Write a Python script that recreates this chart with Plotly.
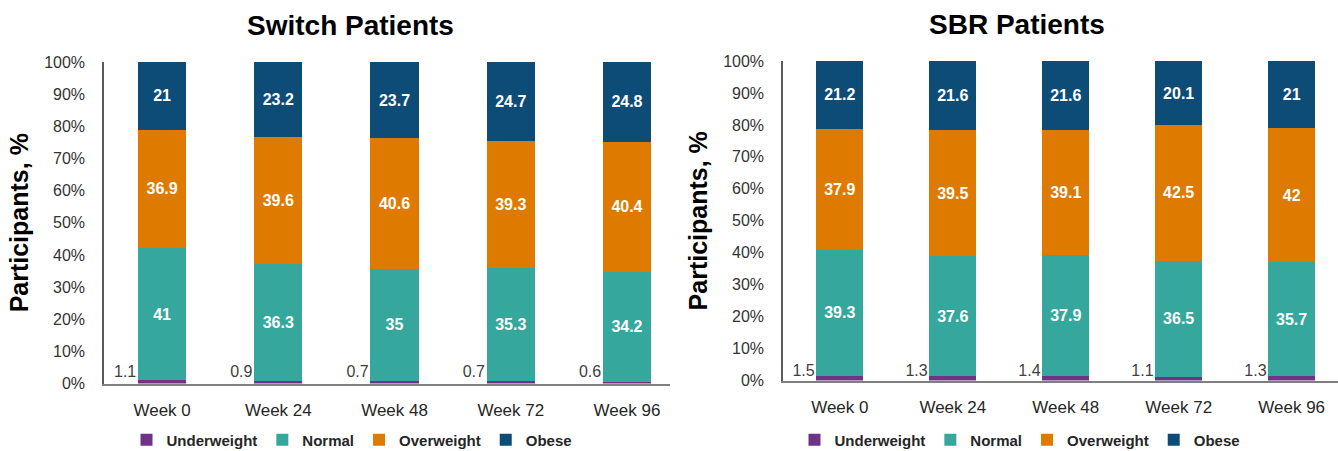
import plotly.graph_objects as go

weeks = ["Week 0", "Week 24", "Week 48", "Week 72", "Week 96"]
series_names = ["Underweight", "Normal", "Overweight", "Obese"]
colors = ["#6F3287", "#35A79C", "#DE7A00", "#0C4C77"]

switch_under = [1.1, 0.9, 0.7, 0.7, 0.6]
switch_normal = [41, 36.3, 35, 35.3, 34.2]
switch_over = [36.9, 39.6, 40.6, 39.3, 40.4]
switch_obese = [21, 23.2, 23.7, 24.7, 24.8]

sbr_under = [1.5, 1.3, 1.4, 1.1, 1.3]
sbr_normal = [39.3, 37.6, 37.9, 36.5, 35.7]
sbr_over = [37.9, 39.5, 39.1, 42.5, 42]
sbr_obese = [21.2, 21.6, 21.6, 20.1, 21]

panel_titles = ["Switch Patients", "SBR Patients"]
y_ticks = [0, 10, 20, 30, 40, 50, 60, 70, 80, 90, 100]
y_tick_labels = ["0%", "10%", "20%", "30%", "40%", "50%", "60%", "70%", "80%", "90%", "100%"]

BASE = "Liberation Sans, Arial, sans-serif"
BAR_W = 0.415

fig = go.Figure()
xs = list(range(len(weeks)))

panels = [
    ("x", "y", "legend", [switch_under, switch_normal, switch_over, switch_obese], 3.4),
    ("x2", "y2", "legend2", [sbr_under, sbr_normal, sbr_over, sbr_obese], 2.8),
]

for xa, ya, lg, data, label_y in panels:
    for k, (name, vals, col) in enumerate(zip(series_names, data, colors)):
        fig.add_trace(go.Bar(
            x=xs, y=vals, name=name, xaxis=xa, yaxis=ya, legend=lg,
            marker=dict(color=col, line=dict(width=0)),
            width=BAR_W,
            text=[str(v) for v in vals] if k > 0 else None,
            texttemplate="%{text}" if k > 0 else None,
            textposition="inside" if k > 0 else "none",
            insidetextanchor="middle",
            textangle=0,
            constraintext="none",
            textfont=dict(family=BASE, size=16, color="white", weight="bold"),
            hoverinfo="skip",
        ))
    # underweight value labels to the left of each bar
    fig.add_trace(go.Scatter(
        x=[i - BAR_W / 2 - 0.015 for i in xs], y=[label_y] * len(xs),
        mode="text", text=[str(v) for v in data[0]],
        textposition="middle left",
        textfont=dict(family=BASE, size=16, color="#404040"),
        xaxis=xa, yaxis=ya, showlegend=False, hoverinfo="skip",
    ))

axis_common_x = dict(
    tickmode="array", tickvals=xs, ticktext=weeks,
    showline=True, linecolor="#7F7F7F", linewidth=1.5,
    showgrid=False, zeroline=False, ticks="",
    tickfont=dict(family=BASE, size=17, color="#262626"),
    ticklabelstandoff=10, fixedrange=True, automargin=False,
)
axis_common_y = dict(
    range=[0, 100], tickmode="array", tickvals=y_ticks, ticktext=y_tick_labels,
    showline=True, linecolor="#595959", linewidth=1.5,
    showgrid=False, zeroline=False, ticks="",
    tickfont=dict(family=BASE, size=16, color="#333333"),
    ticklabelstandoff=14, automargin=False,
    title=dict(text="Participants, %", font=dict(family=BASE, size=25, color="black", weight="bold"), standoff=8),
)

fig.update_layout(
    width=1338, height=451,
    margin=dict(l=0, r=0, t=0, b=0, autoexpand=False),
    paper_bgcolor="white", plot_bgcolor="white",
    barmode="stack", barnorm="percent",
    xaxis=dict(domain=[104 / 1338, 670 / 1338], range=[-0.5, 4.37], anchor="y", **axis_common_x),
    yaxis=dict(domain=[1 - 383.5 / 451, 1 - 62 / 451], anchor="x", **axis_common_y),
    xaxis2=dict(domain=[783 / 1338, 1.0], range=[-0.503, 4.41], anchor="y2", **axis_common_x),
    yaxis2=dict(domain=[1 - 380.5 / 451, 1 - 61 / 451], anchor="x2", **axis_common_y),
    legend=dict(orientation="h", x=352 / 1338, xanchor="center", y=1 - 440 / 451, yanchor="middle",
                font=dict(family=BASE, size=15, color="#262626", weight="bold"),
                itemwidth=30, traceorder="normal", bgcolor="rgba(0,0,0,0)"),
    legend2=dict(orientation="h", x=1020 / 1338, xanchor="center", y=1 - 440 / 451, yanchor="middle",
                 font=dict(family=BASE, size=15, color="#262626", weight="bold"),
                 itemwidth=30, traceorder="normal", bgcolor="rgba(0,0,0,0)"),
    annotations=[
        dict(text=panel_titles[0], x=350 / 1338, y=1 - 26 / 451, xref="paper", yref="paper",
             showarrow=False, xanchor="center", yanchor="middle",
             font=dict(family=BASE, size=28, color="black", weight="bold")),
        dict(text=panel_titles[1], x=1017 / 1338, y=1 - 24 / 451, xref="paper", yref="paper",
             showarrow=False, xanchor="center", yanchor="middle",
             font=dict(family=BASE, size=28, color="black", weight="bold")),
    ],
)

fig.write_html("out.html")
